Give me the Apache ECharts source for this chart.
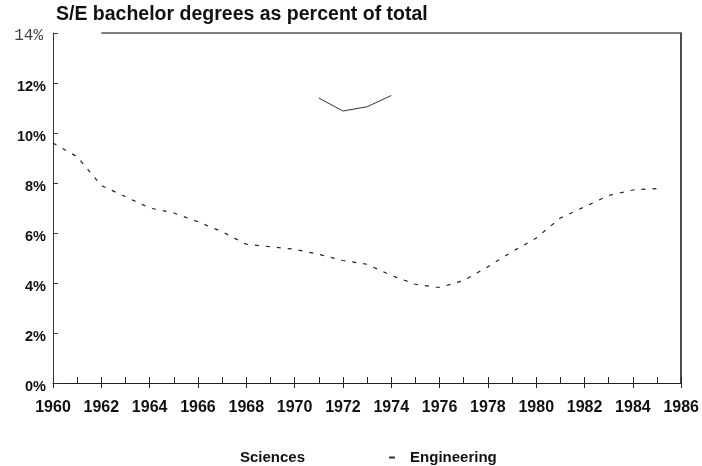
<!DOCTYPE html>
<html>
<head>
<meta charset="utf-8">
<script src="https://cdn.jsdelivr.net/npm/echarts@6/dist/echarts.min.js"></script>
<style>
html,body{margin:0;padding:0;background:#fff;}
#chart{width:702px;height:466px;}
</style>
</head>
<body>
<div id="chart"></div>
<script>
var years = [1960,1961,1962,1963,1964,1965,1966,1967,1968,1969,1970,1971,1972,1973,1974,1975,1976,1977,1978,1979,1980,1981,1982,1983,1984,1985];
var engineering = [9.6,9.05,7.9,7.45,7.0,6.8,6.45,6.05,5.55,5.45,5.35,5.15,4.9,4.75,4.3,3.95,3.82,4.1,4.65,5.25,5.8,6.6,7.05,7.5,7.72,7.78];
var sciencesYears = [1971,1972,1973,1974];
var sciences = [11.4,10.88,11.05,11.5];
var yTicks = [0,2,4,6,8,10,12,14];

var chart = echarts.init(document.getElementById('chart'));
var font = '"Liberation Sans", Arial, sans-serif';
chart.setOption({
  animation: false,
  backgroundColor: '#fff',
  title: {
    text: 'S/E bachelor degrees as percent of total',
    left: 51, top: 0,
    textStyle: {fontFamily: font, fontSize: 19.5, fontWeight: 'bold', color: '#111'}
  },
  legend: {
    top: 445, left: 224,
    itemWidth: 6, itemHeight: 2, itemGap: 84,
    textStyle: {fontFamily: font, fontSize: 15, fontWeight: 'bold', color: '#111'},
    data: [
      {name: 'Sciences', icon: 'rect', itemStyle: {opacity: 0}},
      {name: 'Engineering', icon: 'rect', itemStyle: {color: '#333'}, textStyle: {padding: [0, 0, 0, 10]}}
    ]
  },
  grid: {left: 53, right: 17, top: 33, bottom: 83},
  xAxis: [{
    type: 'value', min: 1960, max: 1986, interval: 2, position: 'bottom',
    axisLine: {lineStyle: {color: '#222', width: 1}},
    axisTick: {show: true, inside: true, length: 6, lineStyle: {color: '#222'}},
    minorTick: {show: true, splitNumber: 2, length: 6, lineStyle: {color: '#222'}},
    splitLine: {show: false},
    axisLabel: {fontFamily: font, fontSize: 16, fontWeight: 'bold', color: '#111', margin: 17,
      formatter: function (v) { return String(v); }}
  }, {
    type: 'value', min: 1960, max: 1986, interval: 2, position: 'bottom',
    axisLine: {show: false},
    axisTick: {show: true, inside: false, length: 5, lineStyle: {color: '#222'}},
    axisLabel: {show: false}, splitLine: {show: false}
  }],
  yAxis: [{
    type: 'value', min: 0, max: 14, interval: 2,
    axisLine: {show: true, lineStyle: {color: '#333', width: 1}},
    axisTick: {show: true, inside: true, length: 5, lineStyle: {color: '#333'}},
    splitLine: {show: false},
    axisLabel: {
      margin: 7,
      formatter: function (v) { return v === 14 ? '{t|' + v + '%}' : '{b|' + v + '%}'; },
      rich: {
        b: {fontFamily: font, fontSize: 14.5, fontWeight: 'bold', color: '#111', padding: [7, 0, 0, 0]},
        t: {fontFamily: '"Liberation Mono", monospace', fontSize: 16, fontWeight: 'normal', color: '#444', padding: [5, 3, 0, 0]}
      }
    }
  }, {
    type: 'value', min: 0, max: 14, interval: 2, position: 'right',
    axisLine: {show: true, lineStyle: {color: '#111', width: 1.5}},
    axisTick: {show: false}, axisLabel: {show: false}, splitLine: {show: false}
  }],
  series: [{
    name: 'Sciences',
    type: 'line',
    data: sciencesYears.map(function (y, i) { return [y, sciences[i]]; }),
    symbol: 'none',
    lineStyle: {color: '#333', width: 1, type: 'solid'},
    itemStyle: {color: '#333'},
    markLine: {
      silent: true, symbol: 'none', label: {show: false},
      lineStyle: {color: '#555', width: 1.5, type: 'solid'},
      data: [[{coord: [1962, 14]}, {coord: [1986, 14]}]]
    }
  }, {
    name: 'Engineering',
    type: 'line',
    data: years.map(function (y, i) { return [y, engineering[i]]; }),
    symbol: 'none',
    lineStyle: {color: '#222', width: 1.2, type: [4, 7]},
    itemStyle: {color: '#222'}
  }]
});
</script>
</body>
</html>
